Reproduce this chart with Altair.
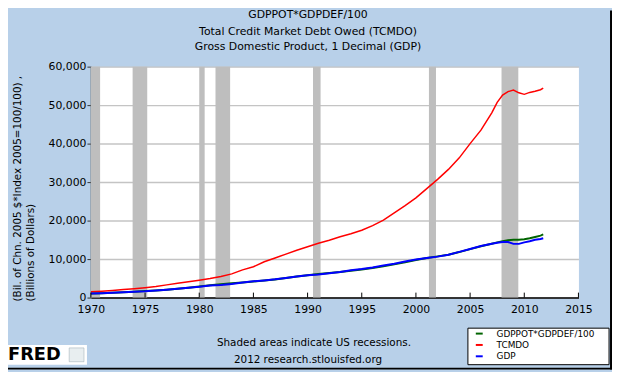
import altair as alt
import pandas as pd

# ---------------- data ----------------
years = list(range(1970, 2008)) + [2007.5, 2008, 2008.5, 2009, 2009.5, 2010, 2010.5, 2011, 2011.5, 2011.75]

tcmdo = [1500, 1650, 1850, 2080, 2320, 2580, 2900, 3300, 3700, 4100,
         4500, 4950, 5500, 6150, 7200, 8000, 9300, 10300, 11300, 12300,
         13200, 14100, 14900, 15800, 16600, 17500, 18700, 20100, 22000, 23900,
         25900, 28300, 30700, 33300, 36300, 40000, 43500, 48000,
         50700, 52600, 53500, 53900, 53200, 52800, 53300, 53600, 54000, 54400]

gdp = [1030, 1130, 1250, 1400, 1520, 1640, 1840, 2040, 2300, 2560,
       2790, 3130, 3260, 3540, 3930, 4220, 4460, 4740, 5110, 5480,
       5800, 5990, 6340, 6670, 7080, 7400, 7810, 8330, 8790, 9350,
       9900, 10280, 10640, 11140, 11870, 12640, 13400, 14000,
       14250, 14450, 14450, 13950, 13950, 14350, 14650, 15000, 15200, 15400]

gdppot = [1050, 1140, 1250, 1380, 1530, 1700, 1860, 2050, 2290, 2560,
          2880, 3200, 3480, 3700, 3930, 4190, 4430, 4720, 5070, 5450,
          5810, 6120, 6380, 6640, 6980, 7320, 7700, 8150, 8620, 9200,
          9780, 10300, 10700, 11150, 11820, 12580, 13350, 14000,
          14350, 14650, 14900, 15000, 15050, 15150, 15400, 15750, 16100, 16400]

series_names = ["GDPPOT*GDPDEF/100", "TCMDO", "GDP"]
series_colors = ["#006400", "#FF0000", "#0000FF"]

rec_start = [1970.0, 1973.85, 1980.0, 1981.5, 1990.5, 2001.2, 2007.9]
rec_end = [1970.85, 1975.2, 1980.5, 1982.85, 1991.2, 2001.85, 2009.45]

x_ticks = list(range(1970, 2016, 5))
y_ticks = list(range(0, 60001, 10000))

title_lines = ["GDPPOT*GDPDEF/100", "Total Credit Market Debt Owed (TCMDO)",
               "Gross Domestic Product, 1 Decimal (GDP)"]
y_title = ["(Bil. of Chn. 2005 $*Index 2005=100/100) ,", "(Billions of Dollars)"]
footer = ["Shaded areas indicate US recessions.", "2012 research.stlouisfed.org"]

# ---------------- build ----------------
W, H = 494, 234
FONT = "DejaVu Sans"
BG = "#B8D0E9"

xs = alt.Scale(domain=[1970, 2015], nice=False, zero=False)
ys = alt.Scale(domain=[0, 60000], nice=False)

xax = alt.Axis(values=x_ticks, format="d", title=None, grid=False,
               tickSize=0, labelPadding=6, labelFont=FONT, labelFontSize=11,
               labelColor="black", domainColor="black", domainWidth=1.5,
               labelFlush=False, labelOverlap=False)
yax = alt.Axis(values=y_ticks, format=",d", title=None, grid=True,
               gridColor="#C4C4C4", gridWidth=1.5, tickSize=4,
               tickColor="#333333", labelPadding=1, labelFont=FONT,
               labelFontSize=11, labelColor="black",
               domainColor="#555555", domainWidth=1.5,
               labelOverlap=False, labelFlush=False)

rec_df = pd.DataFrame({"s": rec_start, "e": rec_end})
rec = alt.Chart(rec_df).mark_rect(color="#BEBEBE").encode(
    x=alt.X("s:Q", scale=xs, axis=xax),
    x2="e:Q",
    y=alt.value(0), y2=alt.value(H),
)

rows = []
for name, vals in zip(series_names, [gdppot, tcmdo, gdp]):
    for yr, v in zip(years, vals):
        rows.append({"year": yr, "value": v, "series": name})
line_df = pd.DataFrame(rows)

lines = []
for name, col, w in zip(series_names, series_colors, [2, 1.5, 2]):
    lines.append(
        alt.Chart(line_df[line_df.series == name]).mark_line(color=col, strokeWidth=w).encode(
            x=alt.X("year:Q", scale=xs, axis=xax),
            y=alt.Y("value:Q", scale=ys, axis=yax),
        )
    )

tick_df = pd.DataFrame({"t": x_ticks})
xt = alt.Chart(tick_df).mark_rule(color="black", strokeWidth=1).encode(
    x=alt.X("t:Q", scale=xs, axis=xax), y=alt.value(H - 5), y2=alt.value(H)
)

def txt(s, x, y, size=11, align="center", angle=0, weight="normal", color="black", font=FONT):
    return alt.Chart(pd.DataFrame({"a": [0]})).mark_text(
        text=s, font=font, fontSize=size, align=align, baseline="middle",
        angle=angle, fontWeight=weight, color=color
    ).encode(x=alt.value(x), y=alt.value(y))

texts = []
for s, yy in zip(title_lines, [-52, -35.5, -19.5]):
    texts.append(txt(s, 220, yy, size=11))
texts.append(txt(y_title[0], -73.5, 238, size=10.5, align="left", angle=270))
texts.append(txt(y_title[1], -61, 238, size=10.5, align="left", angle=270))
texts.append(txt(footer[0], 226, 280, size=10.5))
texts.append(txt(footer[1], 220, 297, size=10.5))

# legend box
box = alt.Chart(pd.DataFrame({"a": [0]})).mark_rect(
    fill="white", stroke="black", strokeWidth=1
).encode(x=alt.value(382), x2=alt.value(525), y=alt.value(265), y2=alt.value(302))

leg_df = pd.DataFrame({"name": series_names, "color": series_colors,
                       "yy": [270.5, 282, 293.5]})
leg_lines = alt.Chart(leg_df).mark_rule(strokeWidth=2).encode(
    x=alt.value(390), x2=alt.value(397), y=alt.Y("yy:Q", scale=None),
    color=alt.Color("color:N", scale=None),
)
leg_text = alt.Chart(leg_df).mark_text(
    align="left", baseline="middle", font=FONT, fontSize=9, color="black"
).encode(x=alt.value(411), y=alt.Y("yy:Q", scale=None), text="name:N")

# FRED logo
logo_box = alt.Chart(pd.DataFrame({"a": [0]})).mark_rect(fill="white").encode(
    x=alt.value(-88), x2=alt.value(-4), y=alt.value(282), y2=alt.value(302))
logo_icon = alt.Chart(pd.DataFrame({"a": [0]})).mark_rect(
    fill="#E8EEF0", stroke="#9AA8B0", strokeWidth=0.5).encode(
    x=alt.value(-22), x2=alt.value(-7), y=alt.value(285), y2=alt.value(299))
logo = txt("FRED", -84, 292, size=18, align="left", weight=900)

# outer frame (right and bottom edges, which fall on the window edges)
frame_r = alt.Chart(pd.DataFrame({"a": [0]})).mark_rule(color="black", strokeWidth=2).encode(
    x=alt.value(527), y=alt.value(-57), y2=alt.value(307))
frame_b = alt.Chart(pd.DataFrame({"a": [0]})).mark_rule(color="black", strokeWidth=2).encode(
    x=alt.value(-84), x2=alt.value(528), y=alt.value(306))

chart = alt.layer(
    rec, *lines, xt, *texts, box, leg_lines, leg_text,
    logo_box, logo_icon, logo, frame_r, frame_b
).properties(
    width=W, height=H,
    autosize=alt.AutoSizeParams(type="none"),
    padding={"left": 84, "top": 57, "right": 34, "bottom": 73},
).configure(background=BG).configure_view(fill="white", stroke="transparent")

chart.save("out.html", embed_options={"renderer": "svg", "actions": False})
